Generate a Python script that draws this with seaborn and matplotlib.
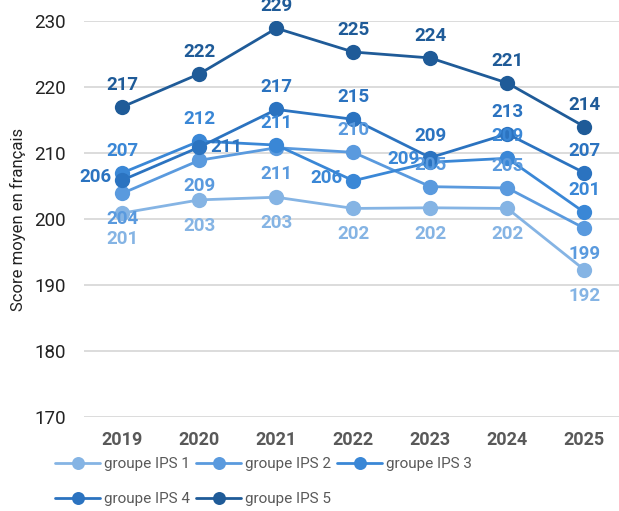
import numpy as np
import pandas as pd
import seaborn as sns
import matplotlib.pyplot as plt

years = [2019, 2020, 2021, 2022, 2023, 2024, 2025]
groups = ["groupe IPS 1", "groupe IPS 2", "groupe IPS 3", "groupe IPS 4", "groupe IPS 5"]
ips1 = [200.9, 202.9, 203.3, 201.6, 201.7, 201.6, 192.3]
ips2 = [203.9, 208.9, 210.8, 210.1, 204.9, 204.7, 198.6]
ips3 = [207.0, 211.8, 211.2, 205.8, 208.6, 209.2, 201.0]
ips4 = [205.9, 210.9, 216.6, 215.1, 209.3, 212.9, 207.0]
ips5 = [217.0, 222.0, 228.9, 225.3, 224.4, 220.6, 214.0]

colors = ["#85b4e4", "#5a9ade", "#3a87d6", "#2b73c0", "#1f5b98"]
# label placement for each point: t=top, b=bottom, l=left, r=right
places = [
    list("bbbbbbb"),
    list("bbbtttb"),
    list("tttlltt"),
    list("lrttttt"),
    list("ttttttt"),
]

sns.set_theme(style="white")
plt.rcParams['font.family'] = ['Roboto', 'DejaVu Sans']

values = [ips1, ips2, ips3, ips4, ips5]
df = pd.DataFrame({
    "year": years * len(groups),
    "score": np.concatenate(values),
    "groupe": np.repeat(groups, len(years)),
})

fig = plt.figure(figsize=(6.19, 5.11), dpi=100)
ax = fig.add_axes([84 / 619, 1 - 417 / 511, 1 - 84 / 619, 396 / 511])

sns.lineplot(data=df, x="year", y="score", hue="groupe", palette=colors,
             marker="o", markersize=11, markeredgewidth=0, linewidth=2,
             ax=ax, legend=True)

offs = {"t": (0, 22), "b": (0, -26), "l": (-27, 3), "r": (27, 0)}
for vals, col, pl in zip(values, colors, places):
    for x, v, p in zip(years, vals, pl):
        ax.annotate(f"{round(v):d}", (x, v), xytext=offs[p], textcoords="offset pixels",
                    ha="center", va="center", fontsize=13.5, fontweight="bold", color=col)

ax.set_ylim(170, 230)
ax.set_xlim(2018.5, 2025.45)
ax.set_yticks(range(170, 231, 10))
ax.set_xticks(years)
ax.set_xticklabels([str(y) for y in years], fontweight="bold", color="#595959")
ax.tick_params(axis="x", labelsize=13, length=0, pad=10)
ax.tick_params(axis="y", labelsize=13.5, length=0, pad=13, labelcolor="#222222")
ax.yaxis.grid(True, color="#d9d9d9", linewidth=1.3)
for s in ax.spines.values():
    s.set_visible(False)
ax.set_xlabel("")
ax.set_ylabel("Score moyen en français", fontsize=12, color="#222222", labelpad=6)

h, l = ax.get_legend_handles_labels()
ax.get_legend().remove()
order = [0, 3, 1, 4, 2]
fig.legend([h[i] for i in order], [l[i] for i in order], ncol=3,
           loc="upper left", bbox_to_anchor=(55 / 619, 1 - 457 / 511),
           frameon=False, fontsize=11, labelcolor="#595959", markerscale=0.85,
           handlelength=2.95, handletextpad=0.25, columnspacing=0.4,
           labelspacing=1.4, borderpad=0, borderaxespad=0)

fig.savefig("out.png", dpi=100)
